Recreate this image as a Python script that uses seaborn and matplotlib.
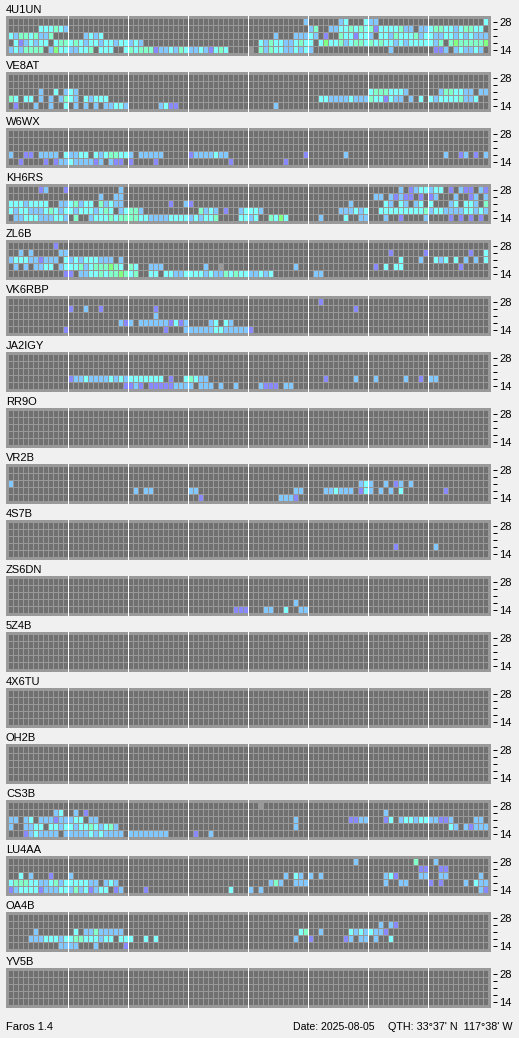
import numpy as np
import pandas as pd
import seaborn as sns
import matplotlib
matplotlib.use("Agg")
import matplotlib.pyplot as plt
from matplotlib.colors import ListedColormap

sns.set_theme(style="white")
plt.rcParams['font.family'] = ['Liberation Sans', 'DejaVu Sans']

# Rows top to bottom are the 28, 24, 21, 18, 14 MHz bands; "_" = a 12-slot (3 h) block with no signal.
# . none, p purple, b blue, c cyan, g aqua, l green, x no data
BANDS = ['28', '', '', '', '14']
R_4U1UN = [
    "_ _ _ _ ...........b ......bc...c bb.......... ...........c",
    "......cccgcb _ _ _ _ bg..bbccgcgc gpccccgbb.bb cggccbcggcc.",
    "cbggcgbbg... ...bcbc..... _ _ .....b...bbb cb.p..gccpcc b.ccbgcccgbc cbbccbcbcbbb",
    ".cpbcbcc.cgg cgcbccbccbcc bcb......... _ ..cbgccbbcgc c.clccgbcggc gcgccbcbcccc cbg.glgggggl",
    "bcbgggg.blcc bbccg.ccc..c gcgggpbbcbgc bbcbpcgc.... x.gbgccbbcbc b........... ....b....... .ppb.bcbbcb.",
]
R_VE8AT = [
    "_ _ _ _ _ _ _ _",
    "_ _ _ _ _ _ _ _",
    "......b..c.b cb.......... _ _ _ _ cgggcccb.... ..bggccbb.bb",
    "gc.cc.b.b.bg cb.cbccc.... _ _ _ ..ccbbbbcbbb gccpcbb.b.c. cbccccgbbc..",
    ".p...b..b..c .b.b.b.bbccb ......bcpp.. _ .....b...... _ _ _",
]
R_W6WX = [
    "_ _ _ _ _ _ _ _",
    "_ _ _ _ _ _ _ _",
    "_ _ _ _ _ _ _ _",
    "b..pp.bbbb.c bbcc.cbcggcc b.bbbbb..... pbbbbcbb.... ...........p .......b.... _ ...b..pb.p.b",
    "..p....p.pbb cbbbbpb.bpp. p....p...... ........p... .......p.... _ _ _",
]
R_KH6RS = [
    "......pb...p ..........b. _ _ _ _ ......b.pbcc bcc.p.bpp.bp",
    "_ ......b..bb. _ _ _ _ .bb.bpbpp.p. pb...b..pb.b",
    "cccbcccc..bb cgbcc.gbcbb. ........p..b p........... _ ........b... ...cb.cb.bc. c...bc.ccb.g",
    "cbccbbbcgcbc cbcccbcgc.bc ggb......... ..gbcb.p..bc ccb......... ......bbbcbc ..cccccccccg bccbbbbccbcb",
    ".bbcccbbbccb .g..bcccgcgg ggccbbbbcccc bcbccg....cc bc..gclc.... ..b....c..bb ...b..p....b ....p.p.p.p.",
]
R_ZL6B = [
    ".........p.. _ _ _ _ _ _ _",
    "..b.b.....bb _ _ _ _ _ ....p......p ........p..c",
    "bcccbbpbbb.c bcbcccbbb.b. _ _ _ _ ......c...b. .cbc.c.b.b.c",
    ".b.b.bbcc.bc ccgbcggglgc. gc..bbb..... ...b..x..... .........b.. _ .p.c.cc..... ......p.....",
    "...........p p.bbccgcgglg cg..cc.ccbbc cccbcbbgcgcc bbcbc....... .bb......... _ _",
]
R_VK6RBP = [
    "_ _ _ _ _ ..p......... _ _",
    "_ p..b..p..... .....p...... _ _ .........p.. _ _",
    "_ _ .....b...... _ _ _ _ _",
    "_ ..........bp b.bbbbbbpcpb ....bc.cb... _ _ _ _",
    "...........p _ .......p...b bbbbbccbbbbb p........... _ _ _",
]
R_JA2IGY = [
    "_ _ _ _ _ _ _ _",
    "_ _ _ _ _ _ _ _",
    "_ _ _ _ _ _ _ _",
    "_ pbbcbbbbcbcb ccccccc.p..c gcbb........ _ ...p.....b.. .b.....b..p. bb..........",
    "_ ...........p pbp.pppppbbb b.bbb.b..b.. ..bppp.bb... _ _ _",
]
R_RR9O = ["_ _ _ _ _ _ _ _"] * 5
R_VR2B = [
    "_ _ _ _ _ _ _ _",
    "_ _ _ _ _ _ _ _",
    "b........... _ _ _ _ ..........bc b..b.pb.b... _",
    "_ _ .b.bb....... bb.......... .........bb. ...bbcbbb.pc b.b.b.c..... ...p........",
    "_ _ _ ..p......... ......bbbp.. _ _ _",
]
R_4S7B = [
    "_ _ _ _ _ _ _ _",
    "_ _ _ _ _ _ _ _",
    "_ _ _ _ _ _ _ _",
    "_ _ _ _ _ _ .....p...... .b..........",
    "_ _ _ _ _ _ _ _",
]
R_ZS6DN = [
    "_ _ _ _ _ _ _ _",
    "_ _ _ _ _ _ _ _",
    "_ _ _ _ _ _ _ _",
    "_ _ _ _ .........b.. _ _ _",
    "_ _ _ .........ppp ...bb..c..bb _ _ _",
]
R_5Z4B = ["_ _ _ _ _ _ _ _"] * 5
R_4X6TU = ["_ _ _ _ _ _ _ _"] * 5
R_OH2B = ["_ _ _ _ _ _ _ _"] * 5
R_CS3B = [
    "_ _ _ _ ..x......... _ _ _",
    ".........bc. .b.p........ _ _ _ _ ...b........ _",
    "bb.bc.bbbpbb bcc.bb...... _ _ .........b.. ........ppbb ...pc.bccbcc bbppb....bb.",
    "b..bbcc.ccbc cbccgcbcgb.. _ _ .........b.. _ _ ....cb.bpbbb",
    "...pbcbbbb.b bbbbcbcbbbb. bbbbbbbb.... .p..b....... _ _ _ _",
]
R_LU4AA = [
    "_ _ _ _ _ .........b.. .........g.. .b..........",
    "_ _ _ _ _ _ ..........pp ..pp........",
    "..c.b...p... b........... _ _ .......b.cb. b.b......... ...bcp....bb ..bb......b.",
    "cgggccbbcgbc ccccbb.bcb.. _ _ ....bgb..bbb _ ...b..bb.... p.p....b.cbb",
    "pbccccpbbbcc bgbcpbcc.pb. ...p........ ........c... b.b......... _ _ ..........bp",
]
R_OA4B = [
    "_ _ _ _ _ _ _ _",
    "_ _ _ _ _ _ ..b.bp...... _",
    ".....b...... .c.bbgbbbbb. _ _ ..........cg ..b.....cbcb cbbp........ _",
    "....bbbcccbc cggcccbcc.cc c..c.c...... _ .........b.. p......pb.bb .b..c....... _",
    "..........bb bb...b.....p _ _ _ _ _ _",
]
R_YV5B = ["_ _ _ _ _ _ _ _"] * 5

STATIONS = ["4U1UN", "VE8AT", "W6WX", "KH6RS", "ZL6B", "VK6RBP", "JA2IGY", "RR9O", "VR2B",
            "4S7B", "ZS6DN", "5Z4B", "4X6TU", "OH2B", "CS3B", "LU4AA", "OA4B", "YV5B"]
ROWS = [R_4U1UN, R_VE8AT, R_W6WX, R_KH6RS, R_ZL6B, R_VK6RBP, R_JA2IGY, R_RR9O, R_VR2B,
        R_4S7B, R_ZS6DN, R_5Z4B, R_4X6TU, R_OH2B, R_CS3B, R_LU4AA, R_OA4B, R_YV5B]
LEVELS = ".pbcglx"
COLORS = ["#707070", "#8888ff", "#80c8ff", "#80ffff", "#80ffc8", "#80ff80", "#999999"]
FOOT_LEFT = "Faros 1.4"
FOOT_DATE = "Date: 2025-08-05"
FOOT_QTH = "QTH: 33°37' N  117°38' W"


def parse(rows):
    out = []
    for r in rows:
        s = "".join("." * 12 if g == "_" else g for g in r.split())
        s = s.ljust(96, ".")[:96]
        out.append([LEVELS.index(c) for c in s])
    return pd.DataFrame(out, index=list(range(5)))


W, H = 519, 1038
BG = "#f0f0f0"
FRAME = "#999999"
PX = 72 / 100
# Small nudge so the 1 px lines snap to the pixel just before each cell boundary.
NUDGE_X = 0.1 / 5
NUDGE_Y = 0.1 / 7
fig = plt.figure(figsize=(W / 100, H / 100), dpi=100, facecolor=BG)
cmap = ListedColormap(COLORS)

for i, (name, rows) in enumerate(zip(STATIONS, ROWS)):
    top = 16 + 56 * i
    ax = fig.add_axes([6 / W, 1 - (top + 40) / H, 485 / W, 40 / H], facecolor=FRAME)
    sns.heatmap(parse(rows), ax=ax, cmap=cmap, vmin=-0.5, vmax=6.5, cbar=False)
    ax.set_xlim(-0.5, 96.5)
    ax.set_ylim(5 + 2.5 / 7, -2.5 / 7)
    ax.vlines(np.arange(0, 97) - NUDGE_X, 0, 5, color=FRAME, lw=1 * PX, antialiased=False, zorder=2)
    ax.hlines(np.arange(0, 6) - NUDGE_Y, 0, 96, color=FRAME, lw=1 * PX, antialiased=False, zorder=2)
    ax.vlines(np.arange(12, 96, 12) - NUDGE_X, 5 + 2.5 / 7, -2.5 / 7, color="white", lw=1 * PX,
              antialiased=False, zorder=3)
    ax.set_xticks([])
    ax.set_xlabel("")
    ax.set_ylabel("")
    for s in ax.spines.values():
        s.set_visible(False)
    ax.yaxis.tick_right()
    ax.spines['right'].set_position(('outward', 2 * PX))
    ax.set_yticks(np.arange(5) + 0.5, BANDS, rotation=0)
    ax.tick_params(axis='y', right=True, length=4 * PX, width=1 * PX, color="black",
                   pad=2.5 * PX, labelsize=8, labelcolor="black")
    fig.text(6 / W, 1 - (top - 3) / H, name, fontsize=8, color="black", ha="left", va="baseline")

fig.text(6 / W, 1 - 1030 / H, FOOT_LEFT, fontsize=8, color="black", ha="left", va="baseline")
fig.text(293 / W, 1 - 1030 / H, FOOT_DATE, fontsize=7.55, color="black", ha="left", va="baseline")
fig.text(513 / W, 1 - 1030 / H, FOOT_QTH, fontsize=7.75, color="black", ha="right", va="baseline")

fig.savefig("out.png", dpi=100, facecolor=BG)
